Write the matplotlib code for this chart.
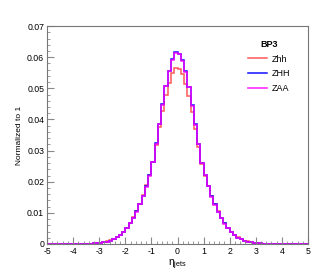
import numpy as np
import matplotlib
matplotlib.use("Agg")
import matplotlib.pyplot as plt
from matplotlib.ticker import MultipleLocator, FuncFormatter

plt.rcParams['font.family'] = ['Liberation Sans', 'DejaVu Sans']

# binning of the eta histograms
nbins = 80
xmin, xmax = -5.0, 5.0

# normalized bin contents, left half (-5..0) then right half (0..5)
zhh = [0, 0, 0.00001, 0.00001, 0.00001, 0.00002, 0.00002, 0.00003,
       0.00004, 0.00005, 0.00007, 0.00009, 0.00011, 0.00014, 0.0002, 0.00027,
       0.00038, 0.00055, 0.0008, 0.0012, 0.0016, 0.0022, 0.0030, 0.0040,
       0.0052, 0.0067, 0.0086, 0.0106, 0.0129, 0.0157, 0.0188, 0.0223,
       0.0265, 0.0318, 0.0375, 0.0428, 0.0478, 0.0518, 0.0548, 0.0565,
       0.0562, 0.0545, 0.0514, 0.0474, 0.0423, 0.0368, 0.0312, 0.0258,
       0.0220, 0.0186, 0.0155, 0.0128, 0.0105, 0.0085, 0.0067, 0.0052,
       0.0040, 0.0030, 0.0021, 0.0016, 0.0011, 0.0008, 0.00055, 0.00038,
       0.00027, 0.0002, 0.00014, 0.0001, 0.00008, 0.00006, 0.00005, 0.00004,
       0.00003, 0.00002, 0.00002, 0.00001, 0.00001, 0.00001, 0, 0]

zHH = [0, 0, 0, 0.00001, 0.00001, 0.00002, 0.00002, 0.00003,
       0.00004, 0.00005, 0.00006, 0.00008, 0.0001, 0.00013, 0.00018, 0.00026,
       0.00036, 0.0005, 0.00076, 0.0011, 0.0015, 0.0021, 0.0029, 0.0040,
       0.0051, 0.0066, 0.0085, 0.0105, 0.0128, 0.0155, 0.0186, 0.0222,
       0.0263, 0.0324, 0.0387, 0.0449, 0.0508, 0.0557, 0.0595, 0.0616,
       0.0611, 0.0590, 0.0555, 0.0504, 0.0445, 0.0385, 0.0322, 0.0261,
       0.0223, 0.0186, 0.0153, 0.0127, 0.0104, 0.0083, 0.0066, 0.0050,
       0.0038, 0.0028, 0.0020, 0.0015, 0.0010, 0.0007, 0.0005, 0.00035,
       0.00025, 0.00018, 0.00013, 0.0001, 0.00008, 0.00006, 0.00005, 0.00004,
       0.00003, 0.00002, 0.00002, 0.00001, 0.00001, 0, 0, 0]

zAA = [0, 0, 0, 0.00001, 0.00001, 0.00002, 0.00002, 0.00003,
       0.00004, 0.00005, 0.00006, 0.00008, 0.0001, 0.00013, 0.00018, 0.00025,
       0.00035, 0.0005, 0.00075, 0.0011, 0.0015, 0.0021, 0.0029, 0.0039,
       0.0051, 0.0066, 0.0084, 0.0104, 0.0127, 0.0153, 0.0184, 0.0219,
       0.0262, 0.0322, 0.0386, 0.0447, 0.0507, 0.0556, 0.0592, 0.0614,
       0.0610, 0.0589, 0.0553, 0.0503, 0.0443, 0.0383, 0.0320, 0.0260,
       0.0221, 0.0185, 0.0152, 0.0126, 0.0103, 0.0082, 0.0065, 0.0050,
       0.0038, 0.0028, 0.0020, 0.0015, 0.0010, 0.0007, 0.0005, 0.00035,
       0.00025, 0.00018, 0.00013, 0.0001, 0.00008, 0.00006, 0.00005, 0.00004,
       0.00003, 0.00002, 0.00002, 0.00001, 0.00001, 0, 0, 0]

labels = ['Zhh', 'ZHH', 'ZAA']
colors = ['#ff2020', '#1010ff', '#ff00ff']
alphas = [0.75, 1.0, 0.9]

edges = np.linspace(xmin, xmax, nbins + 1)

fig = plt.figure(figsize=(3.27, 2.72), dpi=100)
ax = fig.add_axes([0.1437, 0.103, 0.7983, 0.801])

for vals, lab, c, a in zip([zhh, zHH, zAA], labels, colors, alphas):
    ax.stairs(vals, edges, color=c, alpha=a, lw=1.1, label=lab, baseline=None)

ax.set_xlim(xmin, xmax)
ax.set_ylim(0, 0.07)

ax.xaxis.set_major_locator(MultipleLocator(1))
ax.xaxis.set_minor_locator(MultipleLocator(0.2))
ax.yaxis.set_major_locator(MultipleLocator(0.01))
ax.yaxis.set_minor_locator(MultipleLocator(0.002))
ax.yaxis.set_major_formatter(FuncFormatter(lambda v, p: '0' if abs(v) < 1e-9 else '%.2f' % v))
ax.xaxis.set_major_formatter(FuncFormatter(lambda v, p: '%d' % round(v)))

ax.tick_params(which='both', direction='in', top=False, right=False,
               labelsize=6.3, color='#888888', pad=2)
ax.tick_params(which='major', length=5, width=0.8)
ax.tick_params(which='minor', length=2.5, width=0.6)
for s in ax.spines.values():
    s.set_color('#777777')
    s.set_linewidth(0.8)

ax.set_ylabel('Normalized to 1', fontsize=6, labelpad=3)
ax.set_xlabel(r'$\mathregular{\eta_{jets}}$', fontsize=7.5, labelpad=1)

leg = ax.legend(loc='upper left', bbox_to_anchor=(0.74, 0.975), frameon=False,
                fontsize=6.5, title='BP3', title_fontproperties={'weight': 'bold', 'size': 6.5},
                handlelength=2.1, handletextpad=0.5, labelspacing=0.65)

fig.savefig('out.png', dpi=100)
